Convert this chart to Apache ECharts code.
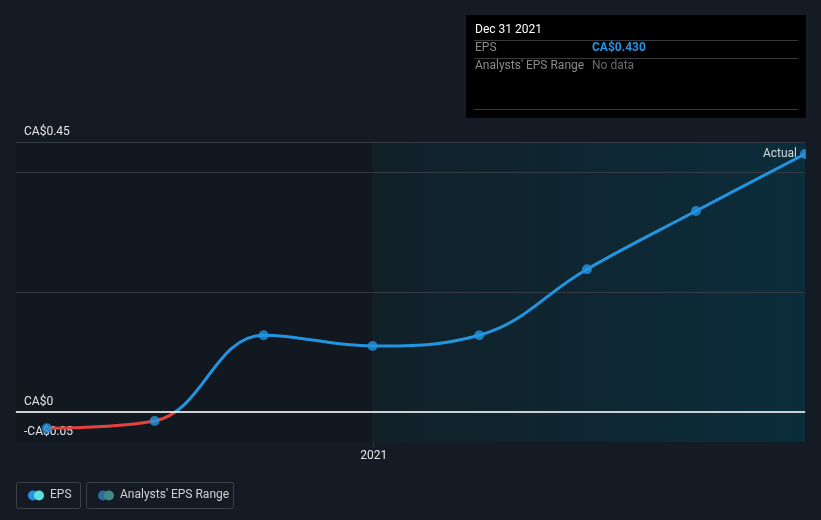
<!DOCTYPE html>
<html><head><meta charset="utf-8">
<script src="https://cdn.jsdelivr.net/npm/echarts@6/dist/echarts.min.js"></script>
<style>html,body{margin:0;padding:0;background:#151b24;}#c{width:821px;height:520px;}</style>
</head><body><div id="c"></div>
<script>
const dates = ['2020-03-31','2020-06-30','2020-09-30','2020-12-31','2021-03-31','2021-06-30','2021-09-30','2021-12-31'];
const eps = [-0.027, -0.015, 0.128, 0.110, 0.128, 0.238, 0.335, 0.430];
const yTickLabels = {'-0.05':'-CA$0.05','0':'CA$0','0.45':'CA$0.45'};
const xMin = '2020-03-05', xMax = '2021-12-31', pastEnd = '2020-12-31';
const tooltipTitle = 'Dec 31 2021', tooltipEps = 'CA$0.430';

const data = dates.map((d,i)=>[d, eps[i]]);
const chart = echarts.init(document.getElementById('c'), null, {renderer:'canvas'});
const font = 'Roboto, "Open Sans", sans-serif';
const grid = '#363b44';
const tr = 'rgba(0,0,0,0)';
chart.setOption({
  backgroundColor:'#151b24',
  animation:false,
  grid:{left:16,right:16,top:142,bottom:78},
  xAxis:{type:'time',min:xMin,max:xMax,z:2,
    axisLine:{lineStyle:{color:'#4a4f57',width:1.5}},
    axisTick:{show:false},
    splitLine:{show:false},
    axisLabel:{color:'#e6e6e6',fontSize:12,fontFamily:font,margin:8,
      formatter:function(v){const d=new Date(v);return (d.getMonth()===0&&d.getDate()===1)?String(d.getFullYear()):'';}}
  },
  yAxis:{type:'value',min:-0.05,max:0.45,interval:0.05,z:2,
    axisLine:{show:false},axisTick:{show:false},
    axisLabel:{inside:true,margin:8,color:'#e6e6e6',fontSize:12,fontFamily:font,verticalAlign:'bottom',padding:[0,0,4,0],
      formatter:function(v){const k=String(Math.round(v*100)/100);return yTickLabels[k]||'';}},
    splitLine:{show:true,lineStyle:{width:1,color:[tr,tr,tr,tr,tr,grid,tr,tr,tr,grid,grid]}}
  },
  visualMap:{show:false,type:'piecewise',seriesIndex:1,dimension:1,
    pieces:[{gte:-1,lt:0,color:'#e64141'},{gte:0,lte:1,color:'#2394df'}]},
  series:[
    {type:'line',data:[],z:1,silent:true,
     markArea:{silent:true,data:[
       [{xAxis:xMin,itemStyle:{color:'#121820'}},{xAxis:pastEnd}],
       [{xAxis:pastEnd,itemStyle:{color:new echarts.graphic.LinearGradient(0,0,1,0,[{offset:0,color:'#112029'},{offset:1,color:'#0b2d3b'}])}},{xAxis:xMax}]
     ]},
     markLine:{silent:true,symbol:'none',label:{show:false},lineStyle:{color:'#ffffff',width:1.5,type:'solid'},data:[{yAxis:0}]}},
    {type:'line',data:data,smooth:0.4,showSymbol:false,lineStyle:{width:3},z:3},
    {type:'scatter',data:data,symbolSize:10,itemStyle:{color:'#2394df'},z:4,
     label:{show:true,position:'left',distance:3,color:'#ffffff',fontSize:12,fontFamily:font,
       formatter:function(p){return p.dataIndex===dates.length-1?'Actual':'';}}}
  ],
  graphic:[
    {type:'rect',left:806,top:138,shape:{width:15,height:310},style:{fill:'#151b24'},z:100},
    {type:'line',shape:{x1:373.5,y1:142,x2:373.5,y2:448},style:{stroke:'#2a3842',lineWidth:1},z:1},
    {type:'rect',left:466,top:15,shape:{width:340,height:103},style:{fill:'#000000'},z:100},
    {type:'text',left:475,top:24,style:{text:tooltipTitle,fill:'#ffffff',font:'12px '+font},z:101},
    {type:'line',shape:{x1:474,y1:40.5,x2:798,y2:40.5},style:{stroke:'#3a3a3a',lineWidth:1},z:101},
    {type:'text',left:475,top:42,style:{text:'EPS',fill:'#8a8a8a',font:'12px '+font},z:101},
    {type:'text',left:592,top:42,style:{text:tooltipEps,fill:'#2394df',font:'bold 12px '+font},z:101},
    {type:'line',shape:{x1:474,y1:58.5,x2:798,y2:58.5},style:{stroke:'#3a3a3a',lineWidth:1},z:101},
    {type:'text',left:475,top:60,style:{text:"Analysts' EPS Range",fill:'#8a8a8a',font:'12px '+font},z:101},
    {type:'text',left:592,top:60,style:{text:'No data',fill:'#6a6a6a',font:'12px '+font},z:101},
    {type:'line',shape:{x1:474,y1:109.5,x2:798,y2:109.5},style:{stroke:'#3a3a3a',lineWidth:1},z:101},
    {type:'rect',shape:{x:16.5,y:482.5,width:64,height:26,r:2},style:{fill:'none',stroke:'#3d424a',lineWidth:1},z:100},
    {type:'circle',shape:{cx:33,cy:495.5,r:5},style:{fill:'#2394df'},z:101},
    {type:'circle',shape:{cx:39,cy:495.5,r:5},style:{fill:'#5ce0d8'},z:101},
    {type:'text',left:50,top:489,style:{text:'EPS',fill:'#d0d0d0',font:'12px '+font},z:101},
    {type:'rect',shape:{x:86.5,y:482.5,width:147,height:26,r:2},style:{fill:'none',stroke:'#3d424a',lineWidth:1},z:100},
    {type:'circle',shape:{cx:103,cy:495.5,r:5},style:{fill:'#2a6d9e'},z:101},
    {type:'circle',shape:{cx:109,cy:495.5,r:5},style:{fill:'#3f8a86'},z:101},
    {type:'text',left:120,top:489,style:{text:"Analysts' EPS Range",fill:'#d0d0d0',font:'12px '+font},z:101}
  ]
});
</script></body></html>
